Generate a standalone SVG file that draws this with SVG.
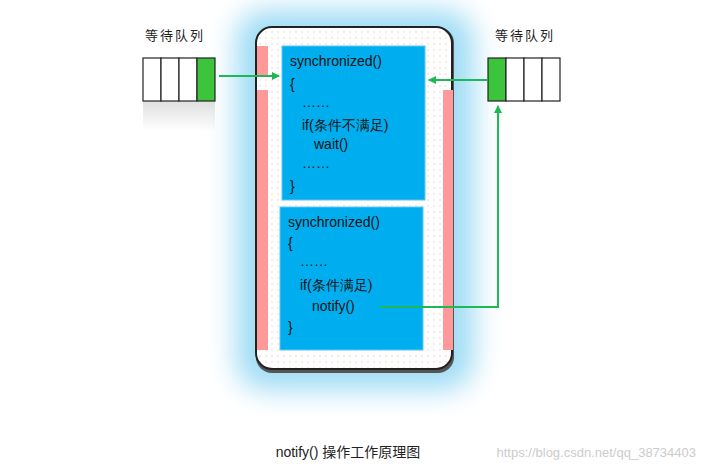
<svg xmlns="http://www.w3.org/2000/svg" width="705" height="469" viewBox="0 0 705 469">
<defs>
<filter id="glow" x="-30%" y="-30%" width="160%" height="160%"><feGaussianBlur stdDeviation="14"/></filter>
<pattern id="dots" width="6" height="6" patternUnits="userSpaceOnUse"><rect width="6" height="6" fill="#fff"/><circle cx="2" cy="2" r="0.7" fill="#f6c0c0"/></pattern>
<marker id="ah" markerWidth="8" markerHeight="8" refX="7" refY="4" orient="auto" markerUnits="userSpaceOnUse"><path d="M0,0 L8,4 L0,8 z" fill="#1db954"/></marker>
<linearGradient id="fade" x1="0" y1="0" x2="0" y2="1"><stop offset="0" stop-color="#000" stop-opacity="0.25"/><stop offset="1" stop-color="#000" stop-opacity="0"/></linearGradient>
</defs>
<style>
.code{font-family:"Comic Sans MS","Liberation Sans",sans-serif;font-size:14px;fill:#111}
.lbl{font-family:"Noto Sans CJK SC",sans-serif;font-size:13px;fill:#222;letter-spacing:2px}
.cell{fill:#fff;stroke:#222;stroke-width:1.2}
.blue{fill:#00aeef;stroke:#5cc8f5;stroke-width:1}
.pink{fill:#f99}
.ln{stroke:#1db954;stroke-width:2;fill:none}
</style>
<rect width="705" height="469" fill="#fff"/>
<rect x="236" y="10" width="238" height="380" rx="30" fill="#9fdcf5" filter="url(#glow)"/>
<g id="container">
<rect x="256" y="27" width="198" height="346" rx="16" fill="#555"/>
<rect x="256" y="27" width="196" height="342" rx="16" fill="url(#dots)" stroke="#222" stroke-width="2"/>
<rect class="pink" x="257" y="46" width="11" height="30"/>
<rect class="pink" x="257" y="90" width="11" height="260"/>
<rect class="pink" x="443" y="90" width="10" height="260"/>
</g>
<g id="block1">
<rect class="blue" x="282" y="46" width="143" height="154"/>
<text class="code" x="290" y="66">synchronized()</text>
<text class="code" x="290" y="89">{</text>
<text class="code" x="302" y="107">……</text>
<text class="code" x="302" y="130">if(条件不满足)</text>
<text class="code" x="314" y="149">wait()</text>
<text class="code" x="302" y="168">……</text>
<text class="code" x="290" y="191">}</text>
</g>
<g id="block2">
<rect class="blue" x="280" y="207" width="143" height="143"/>
<text class="code" x="288" y="227">synchronized()</text>
<text class="code" x="288" y="248">{</text>
<text class="code" x="300" y="266">……</text>
<text class="code" x="300" y="290">if(条件满足)</text>
<text class="code" x="312" y="311">notify()</text>
<text class="code" x="288" y="332">}</text>
</g>
<g id="queue-left">
<text class="lbl" x="145" y="40">等待队列</text>
<rect x="143" y="101" width="72" height="30" fill="url(#fade)" opacity="0.5"/>
<rect class="cell" x="143" y="58" width="18" height="43"/>
<rect class="cell" x="161" y="58" width="18" height="43"/>
<rect class="cell" x="179" y="58" width="18" height="43"/>
<rect class="cell" x="197" y="58" width="18" height="43" fill="#3cc43c" style="fill:#3cc43c"/>
</g>
<g id="queue-right">
<text class="lbl" x="495" y="40">等待队列</text>
<rect class="cell" x="488" y="58" width="18" height="43" style="fill:#3cc43c"/>
<rect class="cell" x="506" y="58" width="18" height="43"/>
<rect class="cell" x="524" y="58" width="18" height="43"/>
<rect class="cell" x="542" y="58" width="18" height="43"/>
</g>
<g id="connectors">
<line class="ln" x1="219" y1="76" x2="279" y2="76" marker-end="url(#ah)"/>
<line class="ln" x1="488" y1="80" x2="429" y2="80" marker-end="url(#ah)"/>
<polyline class="ln" points="380,307 498,307 498,106" marker-end="url(#ah)"/>
</g>
<text x="348" y="457" text-anchor="middle" font-family="'Liberation Sans','Noto Sans CJK SC',sans-serif" font-size="14" fill="#222">notify() 操作工作原理图</text>
<text x="696" y="457" text-anchor="end" font-family="'Liberation Sans',sans-serif" font-size="13" fill="#ccc">https://blog.csdn.net/qq_38734403</text>
</svg>
